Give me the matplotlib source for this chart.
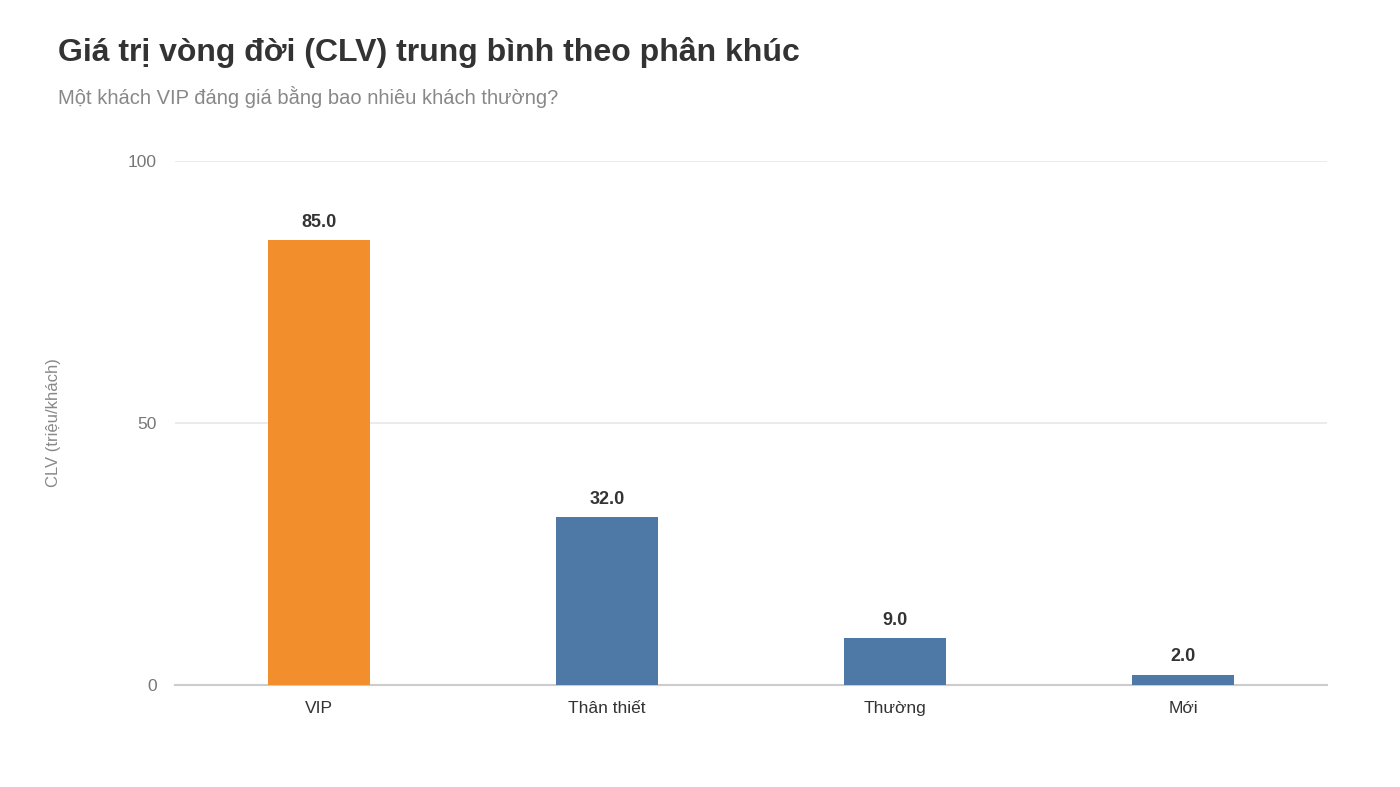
import matplotlib.pyplot as plt

plt.rcParams['font.family'] = ['Liberation Sans', 'DejaVu Sans']

# data
segments = ['VIP', 'Thân thiết', 'Thường', 'Mới']
clv = [85.0, 32.0, 9.0, 2.0]
colors = ['#F28E2B', '#4E79A7', '#4E79A7', '#4E79A7']
yticks = [0, 50, 100]

fig = plt.figure(figsize=(14, 7.87), dpi=100)
ax = fig.add_axes([175/1400, 1 - 685/787, (1327-175)/1400, (685-161)/787])

x = list(range(len(segments)))
bars = ax.bar(x, clv, width=0.355, color=colors, zorder=3)
for b, v in zip(bars, clv):
    ax.annotate(f'{v:.1f}', (b.get_x() + b.get_width()/2, v),
                xytext=(0, 6.5), textcoords='offset points',
                ha='center', va='bottom', fontsize=13, fontweight='bold', color='#333333')

ax.set_xlim(-0.5, 3.5)
ax.set_ylim(0, 100)
ax.set_yticks(yticks)
ax.set_xticks(x)
ax.set_xticklabels(segments, fontsize=12.5, color='#333333')
ax.tick_params(axis='y', labelsize=12.5, colors='#777777', length=0, pad=13)
ax.tick_params(axis='x', length=0, pad=11.5)
ax.grid(axis='y', color='#e8e8e8', linewidth=1.2, zorder=0)
for s in ['top', 'right', 'left']:
    ax.spines[s].set_visible(False)
ax.spines['bottom'].set_color('#cccccc')
ax.spines['bottom'].set_linewidth(1.5)
ax.set_ylabel('CLV (triệu/khách)', fontsize=12, color='#888888', labelpad=48)

fig.text(58/1400, 1 - 53/787, 'Giá trị vòng đời (CLV) trung bình theo phân khúc',
         fontsize=23, fontweight='bold', color='#333333', va='center')
fig.text(58/1400, 1 - 97/787, 'Một khách VIP đáng giá bằng bao nhiêu khách thường?',
         fontsize=14.5, color='#888888', va='center')

fig.savefig('out.png', dpi=100)
